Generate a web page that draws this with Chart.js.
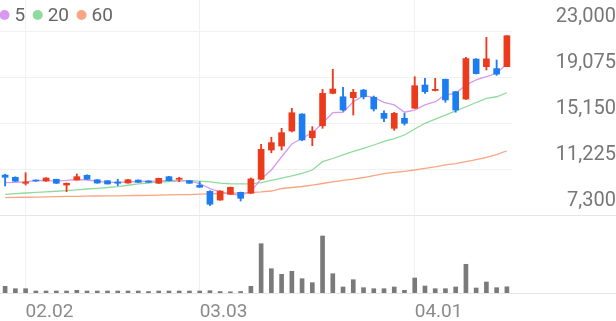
<!DOCTYPE html>
<html>
<head>
<meta charset="utf-8">
<script src="https://cdn.jsdelivr.net/npm/chart.js@4.4.1/dist/chart.umd.min.js"></script>
<style>
  html, body { margin: 0; padding: 0; background: #ffffff; }
</style>
</head>
<body>
<canvas id="stockChart" width="616" height="321"></canvas>
<script>
// ================= DATA =================
// trading days (MM.DD)
const dates = [
  "01.29", "01.30", "02.02", "02.03", "02.04", "02.05", "02.06", "02.09", "02.10", "02.11",
  "02.12", "02.13", "02.19", "02.20", "02.23", "02.24", "02.25", "02.26", "02.27", "03.03",
  "03.04", "03.05", "03.06", "03.09", "03.10", "03.11", "03.12", "03.13", "03.16", "03.17",
  "03.18", "03.19", "03.20", "03.23", "03.24", "03.25", "03.26", "03.27", "03.30", "03.31",
  "04.01", "04.02", "04.03", "04.06", "04.07", "04.08", "04.09", "04.10", "04.13", "04.14",
];
const tickDates = ["02.02", "03.03", "04.01"];
const priceTicks = [7300, 11225, 15150, 19075, 23000];

const opens = [
  10730, 10540, 10030, 10300, 10220, 10370, 9880, 10310, 10710, 10330,
  10250, 10140, 10050, 10300, 10220, 10030, 10590, 10370, 10250, 9860,
  9340, 8600, 9090, 9260, 9180, 10370, 12860, 13200, 14480, 15930,
  13910, 14930, 17690, 17400, 17320, 17970, 17350, 15990, 14710, 15560,
  16420, 18400, 17930, 18890, 17830, 17200, 20610, 19960, 19800, 19960,
];
const highs = [
  10800, 10580, 10930, 10320, 10500, 10380, 10050, 10820, 10740, 10350,
  10260, 10370, 10360, 10320, 10240, 10470, 10620, 10540, 10270, 10160,
  9400, 9400, 9700, 9280, 10480, 13350, 13950, 14710, 16410, 15950,
  14850, 18030, 19740, 18200, 18030, 18030, 17460, 16190, 16070, 15990,
  19110, 18970, 18970, 18900, 17860, 20760, 20650, 22460, 20530, 22600,
];
const lows = [
  9800, 10180, 9880, 10200, 10200, 10000, 9320, 10300, 10350, 10030,
  9960, 9830, 10030, 10100, 10100, 10010, 10230, 10160, 10010, 9680,
  8130, 8580, 9070, 8520, 9160, 10350, 12630, 12860, 14400, 13650,
  13230, 14710, 17650, 16180, 15840, 17210, 16190, 15280, 14540, 14990,
  16400, 17690, 17890, 16930, 16080, 17170, 19340, 19680, 19220, 19960,
];
const closes = [
  10540, 10200, 10140, 10220, 10480, 10030, 10030, 10590, 10370, 10050,
  9970, 10030, 10330, 10110, 10110, 10450, 10250, 10460, 10030, 9690,
  8240, 9370, 9690, 8750, 10400, 12920, 13490, 14340, 16040, 13720,
  14480, 17690, 18060, 16270, 17780, 17400, 16360, 15560, 15990, 15140,
  18340, 17830, 18030, 17130, 16270, 20650, 19370, 20630, 19330, 22600,
];
// 거래량 (주)
const volumes = [
  67000, 43000, 43000, 20000, 20000, 20000, 20000, 27000, 20000, 20000,
  20000, 20000, 20000, 20000, 15000, 20000, 20000, 20000, 20000, 20000,
  23000, 15000, 12000, 15000, 67000, 493000, 243000, 187000, 217000, 143000,
  103000, 570000, 193000, 60000, 133000, 53000, 43000, 43000, 60000, 27000,
  150000, 70000, 43000, 43000, 60000, 287000, 50000, 110000, 53000, 62000,
];
// 이동평균선
const ma5 = [
  10080, 10100, 10140, 10250, 10280, 10220, 10270, 10350, 10310, 10220,
  10100, 10100, 10140, 10180, 10200, 10220, 10270, 10280, 10240, 10010,
  9580, 9290, 9120, 9000, 9330, 10390, 11160, 12290, 13370, 13860,
  14340, 15140, 16040, 16080, 16980, 17490, 17350, 16930, 16700, 16080,
  16270, 16700, 16980, 17550, 17690, 18400, 18830, 19110, 19400, 20190,
];
const ma20 = [
  9090, 9140, 9200, 9250, 9300, 9350, 9410, 9470, 9540, 9600,
  9670, 9750, 9860, 9970, 10050, 10140, 10180, 10220, 10250, 10220,
  10140, 10050, 9990, 9970, 9970, 10080, 10270, 10460, 10650, 10880,
  11160, 11870, 12140, 12440, 12740, 13010, 13290, 13590, 13840, 14140,
  14650, 15140, 15500, 15840, 16190, 16550, 16910, 17270, 17400, 17740,
];
const ma60 = [
  8800, 8820, 8840, 8850, 8870, 8890, 8905, 8910, 8930, 8945,
  8955, 8960, 8970, 8990, 9005, 9020, 9040, 9055, 9070, 9100,
  9130, 9160, 9185, 9200, 9230, 9290, 9370, 9585, 9670, 9755,
  9880, 10010, 10140, 10280, 10390, 10520, 10690, 10860, 10950, 11050,
  11160, 11290, 11420, 11590, 11710, 11880, 12050, 12240, 12480, 12800,
];
const maLabels = ["5", "20", "60"];

// ================= STYLE =================
const UP_COLOR = "#ec3a1d";
const DOWN_COLOR = "#1c7df2";
const MA_COLORS = ["#d79af0", "#8fdb9e", "#f9a583"];
const GRID_COLOR = "#f1f1f1";
const FONT = "Roboto";

const candleColors = closes.map((c, i) => (c >= opens[i] ? UP_COLOR : DOWN_COLOR));
const tickStep = priceTicks[1] - priceTicks[0];

// 범례 (좌상단, 차트 위에 겹쳐서)
const maLegend = {
  id: "maLegend",
  afterDraw(chart) {
    const ctx = chart.ctx;
    ctx.save();
    ctx.font = "19px " + FONT;
    ctx.textBaseline = "middle";
    let x = 4.5;
    const y = 15;
    chart.data.datasets.forEach((ds) => {
      if (ds.type !== "line") return;
      ctx.fillStyle = ds.borderColor;
      ctx.beginPath();
      ctx.arc(x, y, 5, 0, Math.PI * 2);
      ctx.fill();
      ctx.fillStyle = "#666666";
      ctx.fillText(ds.label, x + 10, y + 1);
      x += 10 + ctx.measureText(ds.label).width + 12.5;
    });
    ctx.restore();
  },
};

// 가격/거래량 구분선 + 하단 축선 (전체 폭)
const paneLines = {
  id: "paneLines",
  beforeDatasetsDraw(chart) {
    const { ctx, width, chartArea, scales } = chart;
    const ySep = Math.round(scales.y.getPixelForValue(priceTicks[0])) + 0.5;
    const yBottom = Math.round(chartArea.bottom) + 0.5;
    ctx.save();
    ctx.strokeStyle = "#e6e6e6";
    ctx.lineWidth = 1;
    ctx.beginPath();
    ctx.moveTo(0, ySep);
    ctx.lineTo(width, ySep);
    ctx.moveTo(0, yBottom);
    ctx.lineTo(width, yBottom);
    ctx.stroke();
    ctx.restore();
  },
};

function maDataset(label, data, color) {
  return {
    type: "line",
    label,
    data,
    borderColor: color,
    backgroundColor: color,
    borderWidth: 1.3,
    pointRadius: 0,
    tension: 0,
    yAxisID: "y",
    order: 2,
  };
}

const ctx = document.getElementById("stockChart").getContext("2d");

new Chart(ctx, {
  type: "bar",
  data: {
    labels: dates,
    datasets: [
      maDataset(maLabels[0], ma5, MA_COLORS[0]),
      maDataset(maLabels[1], ma20, MA_COLORS[1]),
      maDataset(maLabels[2], ma60, MA_COLORS[2]),
      {
        label: "wick",
        data: lows.map((l, i) => [l, highs[i]]),
        backgroundColor: candleColors,
        barThickness: 1.2,
        grouped: false,
        yAxisID: "y",
        order: 1,
      },
      {
        label: "body",
        data: opens.map((o, i) => [o, closes[i]]),
        backgroundColor: candleColors,
        barThickness: 6,
        minBarLength: 1,
        grouped: false,
        yAxisID: "y",
        order: 0,
      },
      {
        label: "volume",
        data: volumes,
        backgroundColor: "#7a7a7a",
        barThickness: 4,
        grouped: false,
        yAxisID: "yVol",
        order: 3,
      },
    ],
  },
  options: {
    responsive: false,
    animation: false,
    layout: { padding: 0 },
    plugins: {
      legend: { display: false },
      tooltip: { enabled: false },
    },
    scales: {
      x: {
        offset: true,
        grid: { offset: false, color: GRID_COLOR, drawTicks: false },
        border: { display: false },
        afterBuildTicks: (scale) => {
          scale.ticks = scale.ticks.filter((t) => tickDates.includes(dates[t.value]));
        },
        ticks: {
          autoSkip: false,
          maxRotation: 0,
          align: "start",
          padding: 8,
          color: "#8a8a8a",
          font: { family: FONT, size: 19 },
        },
        afterFit: (scale) => {
          scale.height = 28;
          scale.paddingLeft = 0;
          scale.paddingRight = 0;
        },
      },
      y: {
        position: "right",
        min: priceTicks[0] - tickStep * 1.686,
        max: priceTicks[priceTicks.length - 1] + tickStep * 0.673,
        afterBuildTicks: (scale) => {
          scale.ticks = priceTicks.map((v) => ({ value: v }));
        },
        grid: {
          color: (c) => (c.tick && c.tick.value === priceTicks[0] ? "transparent" : GRID_COLOR),
          drawTicks: false,
        },
        border: { display: false },
        ticks: {
          crossAlign: "far",
          padding: 40,
          labelOffset: -14,
          color: "#777777",
          font: { family: FONT, size: 20 },
          callback: (v) => Number(v).toLocaleString("en-US"),
        },
        afterFit: (scale) => {
          scale.width = 104;
          scale.paddingTop = 0;
          scale.paddingBottom = 0;
        },
      },
      yVol: {
        display: false,
        min: 0,
        max: Math.max(...volumes) * 5.14,
      },
    },
  },
  plugins: [paneLines, maLegend],
});
</script>
</body>
</html>
